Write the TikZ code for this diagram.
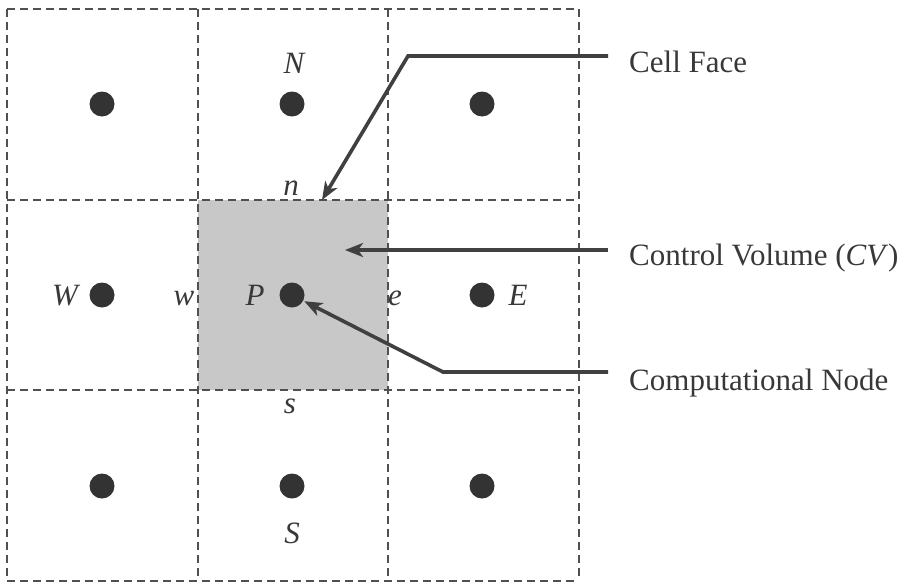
\documentclass[tikz,border=0pt]{standalone}
\usepackage{fontspec}
\setmainfont{Liberation Serif}
\usetikzlibrary{arrows.meta}
\definecolor{linegray}{HTML}{505050}
\definecolor{dotgray}{HTML}{333333}
\definecolor{txtgray}{HTML}{383838}
\definecolor{cvfill}{HTML}{C8C8C8}
\definecolor{arrgray}{HTML}{404040}
\tikzset{
  gridline/.style={draw=linegray, line width=2pt, dash pattern=on 8pt off 5pt},
  cnode/.style={circle, fill=dotgray, minimum size=25pt, inner sep=0pt},
  lbl/.style={anchor=base, inner sep=0pt, text=txtgray, font=\fontsize{31}{36}\selectfont\itshape},
  callout/.style={anchor=base west, inner sep=0pt, text=txtgray, font=\fontsize{31}{36}\selectfont},
  pointer/.style={draw=arrgray, line width=3.6pt, -{Stealth[length=18pt, width=14pt, inset=5pt]}}
}
\begin{document}
\begin{tikzpicture}[x=1pt, y=-1pt]
\useasboundingbox (0,0) rectangle (910,584);
% control volume fill
\fill[cvfill] (197.5,199.5) rectangle (388,390);
% grid
\foreach \x in {7,197.5,388,578.5} \draw[gridline] (\x,9) -- (\x,580.5);
\foreach \y in {9,199.5,390,580.5} \draw[gridline] (7,\y) -- (578.5,\y);
% computational nodes
\node[cnode] (dNW) at (102,104) {};
\node[cnode] (dN)  at (292,104) {};
\node[cnode] (dNE) at (482,104) {};
\node[cnode] (dW)  at (102,295) {};
\node[cnode] (dP)  at (292,295) {};
\node[cnode] (dE)  at (482,295) {};
\node[cnode] (dSW) at (102,486) {};
\node[cnode] (dS)  at (292,486) {};
\node[cnode] (dSE) at (482,486) {};
% labels
\node[lbl] (lN) at (294,73) {N};
\node[lbl] (ln) at (291,195) {n};
\node[lbl] (lW) at (65,305) {W};
\node[lbl] (lw) at (184,305) {w};
\node[lbl] (lP) at (255,305) {P};
\node[lbl] (le) at (395,305) {e};
\node[lbl] (lE) at (518,305) {E};
\node[lbl] (ls) at (290,413) {s};
\node[lbl] (lS) at (292,543) {S};
% callouts
\node[callout] (cf) at (629,72) {Cell Face};
\node[callout] (cv) at (629,265) {Control Volume (\textit{CV})};
\node[callout] (cn) at (629,390) {Computational Node};
\coordinate (cfStart) at (608,56);
\coordinate (cfBend) at (408,56);
\coordinate (cfTip) at (322,200);
\coordinate (cvStart) at (608,250);
\coordinate (cvTip) at (345,250);
\coordinate (cnStart) at (608,372);
\coordinate (cnBend) at (443,372);
\draw[pointer] (cfStart) -- (cfBend) -- (cfTip);
\draw[pointer] (cvStart) -- (cvTip);
\draw[pointer, shorten >=1pt] (cnStart) -- (cnBend) -- (dP);
\end{tikzpicture}
\end{document}
